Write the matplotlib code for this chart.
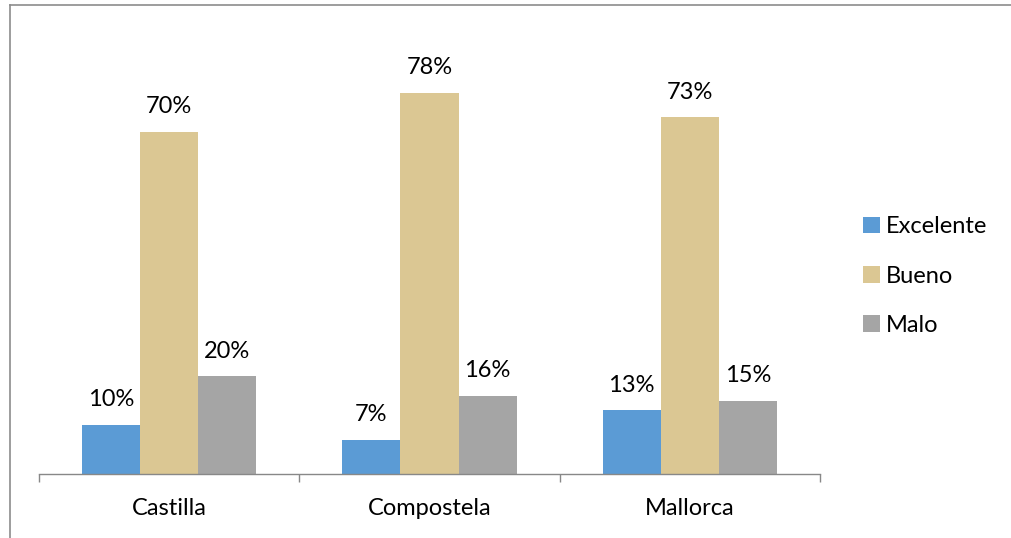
import numpy as np
import matplotlib
matplotlib.use('Agg')
import matplotlib.pyplot as plt
from matplotlib.lines import Line2D

# data
categories = ['Castilla', 'Compostela', 'Mallorca']
excelente = [10, 7, 13]
bueno = [70, 78, 73]
malo = [20, 16, 15]
series_names = ['Excelente', 'Bueno', 'Malo']
colors = ['#5B9BD5', '#DBC793', '#A5A5A5']

plt.rcParams['font.family'] = ['Lato', 'DejaVu Sans']
fs = 17

W, H = 1012, 538
fig = plt.figure(figsize=(W / 100, H / 100), dpi=100)

# plot area in pixels
x0, x1 = 39, 820
y_base = 474
px_per_unit = 4.886
ymax = 90
ax = fig.add_axes([x0 / W, (H - y_base) / H, (x1 - x0) / W, ymax * px_per_unit / H])

x = np.arange(len(categories))
width = 58 / 260
all_series = [excelente, bueno, malo]
for i, (vals, name, c) in enumerate(zip(all_series, series_names, colors)):
    pos = x + (i - 1) * width
    bars = ax.bar(pos, vals, width, color=c, label=name)
    for b, v in zip(bars, vals):
        ax.text(b.get_x() + b.get_width() / 2, v + 3.0, f'{v}%',
                ha='center', va='bottom', fontsize=fs, color='#000000')

ax.set_xlim(-0.5, len(categories) - 0.5)
ax.set_ylim(0, ymax)
ax.set_yticks([])
for s in ['top', 'right', 'left']:
    ax.spines[s].set_visible(False)
ax.spines['bottom'].set_color('#888888')
ax.spines['bottom'].set_linewidth(1)

# category separators as ticks
ax.set_xticks(np.arange(-0.5, len(categories), 1), minor=True)
ax.set_xticks(x)
ax.set_xticklabels(categories, fontsize=fs)
ax.tick_params(axis='x', which='major', length=0, pad=17)
ax.tick_params(axis='x', which='minor', length=6, color='#888888', width=1)

leg = ax.legend(loc='center left', bbox_to_anchor=(1.028, 0.45), frameon=False,
                fontsize=fs, handlelength=0.7, handleheight=0.7,
                handletextpad=0.25, labelspacing=1.2)

# outer chart frame (only top and left edges visible)
fig.add_artist(Line2D([10 / W, 10 / W], [0, 1 - 5 / H], color='#8c8c8c', lw=1.2))
fig.add_artist(Line2D([10 / W, 1], [1 - 5 / H, 1 - 5 / H], color='#8c8c8c', lw=1.2))

fig.savefig('out.png', dpi=100)
